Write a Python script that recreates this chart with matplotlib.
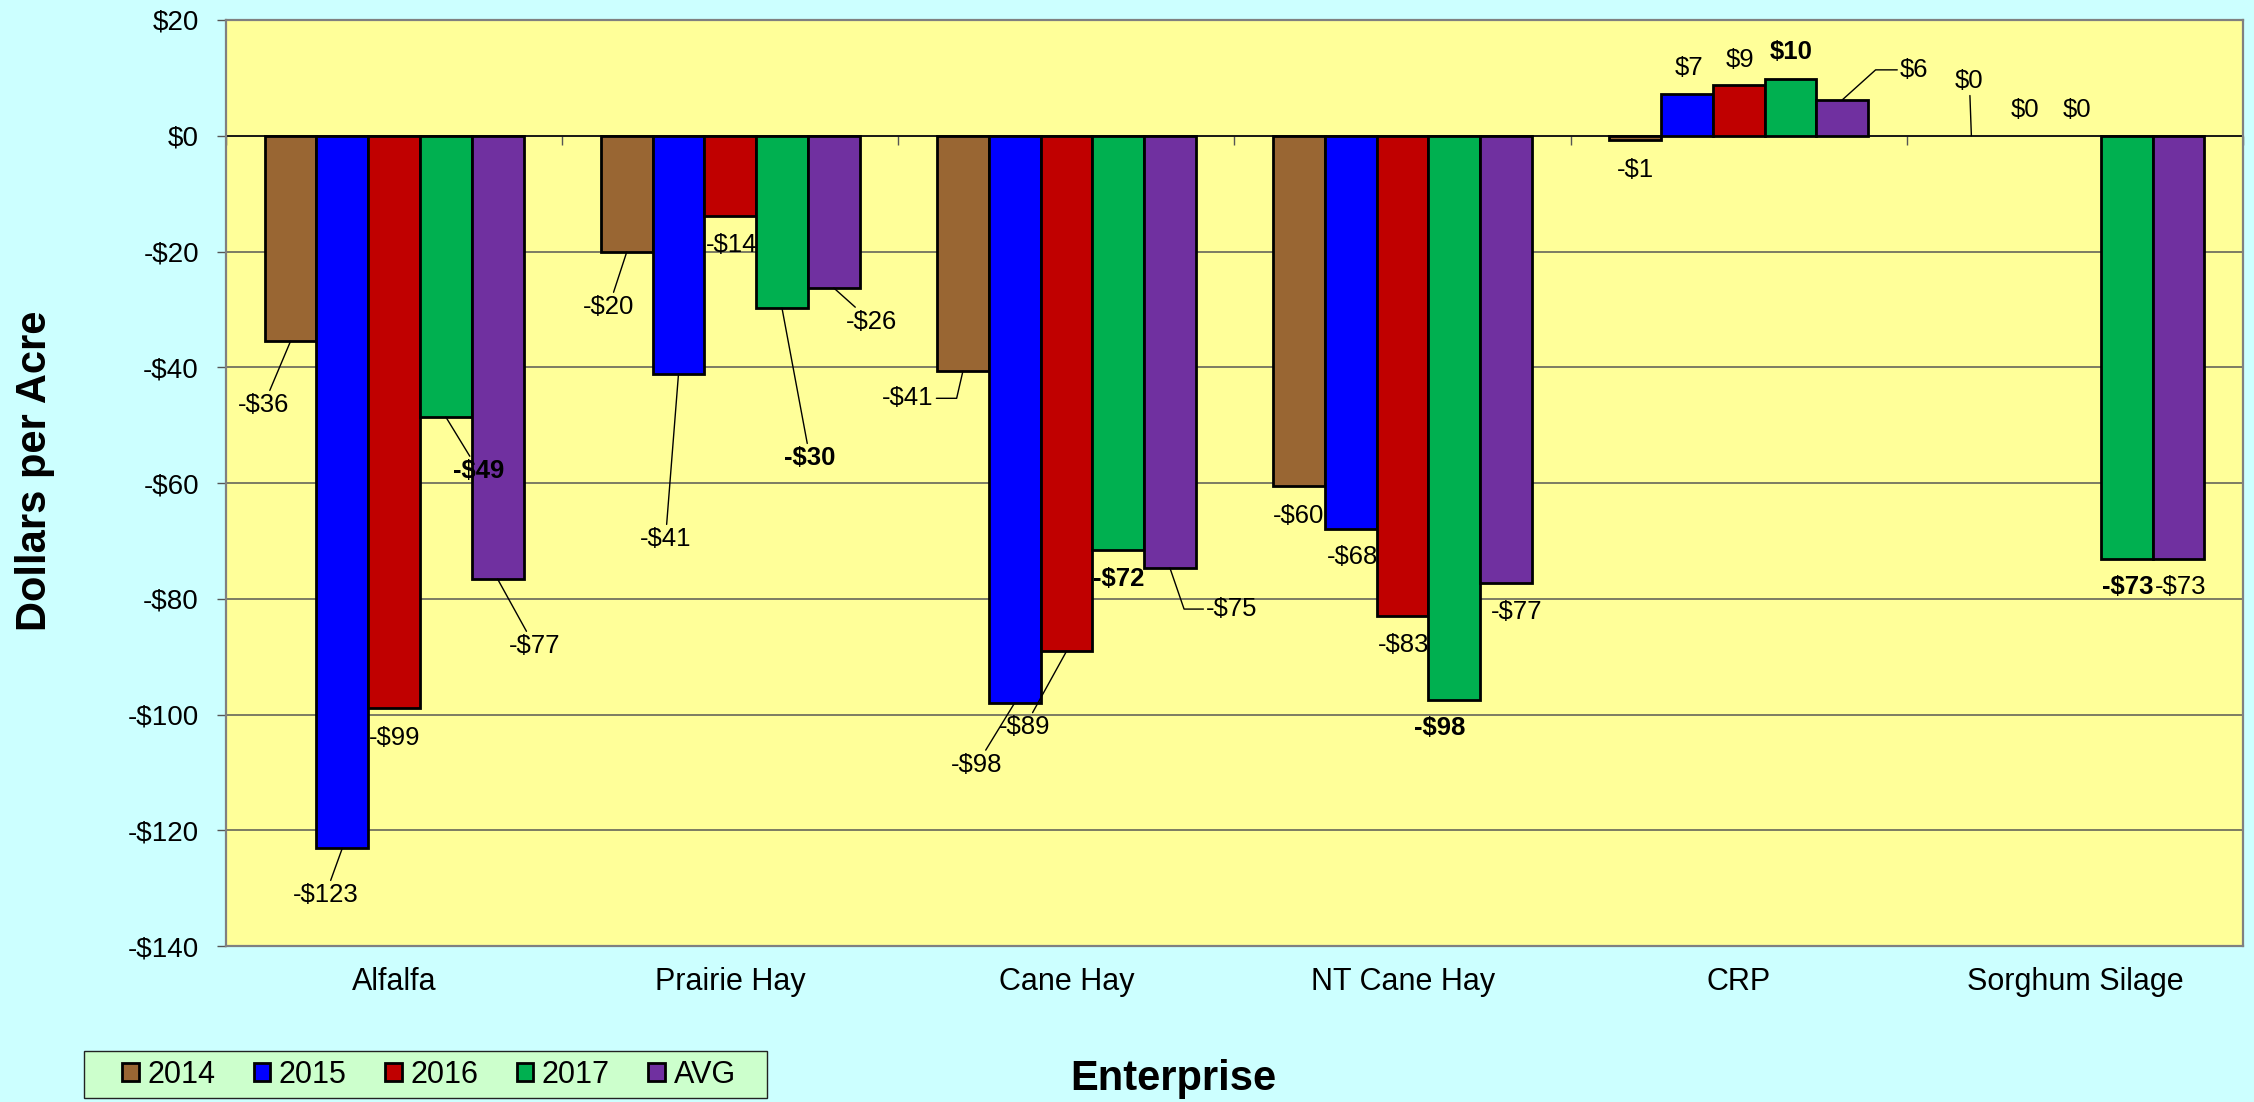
import matplotlib
matplotlib.use("Agg")
import matplotlib.pyplot as plt
from matplotlib.ticker import FuncFormatter, FixedLocator
from matplotlib.patches import Rectangle
import numpy as np

plt.rcParams['font.family'] = ['Liberation Sans', 'DejaVu Sans']

# ---------------- data ----------------
categories = ["Alfalfa", "Prairie Hay", "Cane Hay", "NT Cane Hay", "CRP", "Sorghum Silage"]
series_names = ["2014", "2015", "2016", "2017", "AVG"]
v2014 = [-35.5, -20.1, -40.7, -60.5, -0.8, 0.0]
v2015 = [-123.1, -41.2, -98.0, -68.0, 7.2, 0.0]
v2016 = [-98.8, -13.9, -89.1, -82.9, 8.7, 0.0]
v2017 = [-48.6, -29.8, -71.5, -97.5, 9.8, -73.2]
vavg = [-76.6, -26.3, -74.7, -77.2, 6.2, -73.2]
y_ticks = [20, 0, -20, -40, -60, -80, -100, -120, -140]

series_values = [v2014, v2015, v2016, v2017, vavg]
colors = ["#996633", "#0000FF", "#C00000", "#00B050", "#7030A0"]
bold_series = [False, False, False, True, False]

# label layout: (dx px, dy px downward, leader type)
label_layout = [
    [(-27, 64, 'line'), (-18, 55, 'line'), (-55, 27, 'elbowL'), (0, 30, None), (0, 30, None), (-2, -55, 'line')],
    [(-17, 47, 'line'), (-13, 165, 'line'), (-38, 62, 'line'), (2, 28, None), (2, -26, None), (2, -26, None)],
    [(1, 30, None), (1, 29, None), (-42, 76, 'line'), (1, 29, None), (1, -25, None), (2, -26, None)],
    [(33, 54, 'line'), (28, 150, 'line'), (1, 29, None), (-15, 28, None), (1, -27, None), (1, 28, None)],
    [(37, 67, 'line'), (38, 34, 'line'), (62, 41, ('elbowR', -71)), (11, 29, None), (72, -30, ('elbowR', 42)), (2, 28, None)],
]

# ---------------- figure ----------------
W, H = 2254, 1102
fig = plt.figure(figsize=(W / 100, H / 100), dpi=100, facecolor='#CCFFFF')
ax = fig.add_axes([226 / W, 1 - 946 / H, (2243 - 226) / W, (946 - 20) / H])
ax.set_facecolor('#FFFF99')

x = np.arange(len(categories))
bw = 0.154
for j, (name, vals, col) in enumerate(zip(series_names, series_values, colors)):
    xs = x + (j - 2) * bw
    lws = [0 if v == 0 else 2.0 for v in vals]
    ax.bar(xs, vals, width=bw, color=col, edgecolor='black', linewidth=lws,
           label=name, zorder=3)
    for i, v in enumerate(vals):
        dx, dy, lead = label_layout[j][i]
        txt = f"-${abs(round(v)):.0f}" if round(v) < 0 else f"${round(v):.0f}"
        kw = dict(xy=(xs[i], v), xytext=(dx, -dy), textcoords='offset pixels',
                  ha='center', va='center', fontsize=18.5,
                  fontweight='bold' if bold_series[j] else 'normal',
                  color='black', zorder=5)
        if lead == 'line':
            kw['arrowprops'] = dict(arrowstyle='-', color='black', lw=1.0,
                                    shrinkA=0, shrinkB=0)
        elif lead == 'elbowL':
            kw['arrowprops'] = dict(arrowstyle='-', color='black', lw=1.0,
                                    shrinkA=0, shrinkB=0, relpos=(1, 0.5),
                                    connectionstyle='angle,angleA=0,angleB=77,rad=0')
        elif isinstance(lead, tuple):
            kw['arrowprops'] = dict(arrowstyle='-', color='black', lw=1.0,
                                    shrinkA=0, shrinkB=0, relpos=(0, 0.5),
                                    connectionstyle=f'angle,angleA=0,angleB={lead[1]},rad=0')
        ax.annotate(txt, **kw)

ax.axhline(0, color='black', lw=1.1, zorder=2)

ax.set_xlim(-0.5, len(categories) - 0.5)
ax.set_ylim(-140, 20)
ax.yaxis.set_major_locator(FixedLocator(y_ticks))
ax.yaxis.set_major_formatter(FuncFormatter(lambda v, p: f"-${abs(v):.0f}" if v < 0 else f"${v:.0f}"))
ax.yaxis.grid(True, color='#66665a', lw=1.2, zorder=0)
ax.set_axisbelow(True)
ax.tick_params(axis='y', direction='out', length=6.5, width=1, color='#555555',
               labelsize=20, pad=13)
ax.set_xticks(x)
ax.set_xticklabels(categories)
ax.tick_params(axis='x', length=0, labelsize=22, pad=15)

for s in ax.spines.values():
    s.set_color('#808080')
    s.set_linewidth(1.6)

# category tick marks on the zero line
sec = ax.secondary_xaxis(0, transform=ax.transData)
sec.set_xticks(np.arange(-0.5, len(categories), 1.0))
sec.tick_params(axis='x', direction='out', length=6.5, width=1, color='#555555', labelbottom=False)
sec.spines['bottom'].set_visible(False)

# axis titles
fig.text(35 / W, 1 - 471 / H, "Dollars per Acre", rotation=90, ha='center', va='center',
         fontsize=30, fontweight='bold')
fig.text(1173 / W, 1 - 1090 / H, "Enterprise", ha='center', va='baseline',
         fontsize=30, fontweight='bold')

# legend box and entries
fig.patches.append(Rectangle((84 / W, 1 - 1098 / H), (767 - 84) / W, 47 / H,
                             transform=fig.transFigure, facecolor='#CCFFCC',
                             edgecolor='#222222', linewidth=1.0, zorder=0))
leg = fig.legend(loc='center left', bbox_to_anchor=(122 / W, 1 - 1075 / H), ncol=5, fontsize=22,
                 handlelength=0.55, handleheight=0.55, handletextpad=0.28,
                 columnspacing=1.25, borderpad=0, borderaxespad=0,
                 frameon=False)

fig.savefig('out.png', dpi=100, facecolor=fig.get_facecolor())
